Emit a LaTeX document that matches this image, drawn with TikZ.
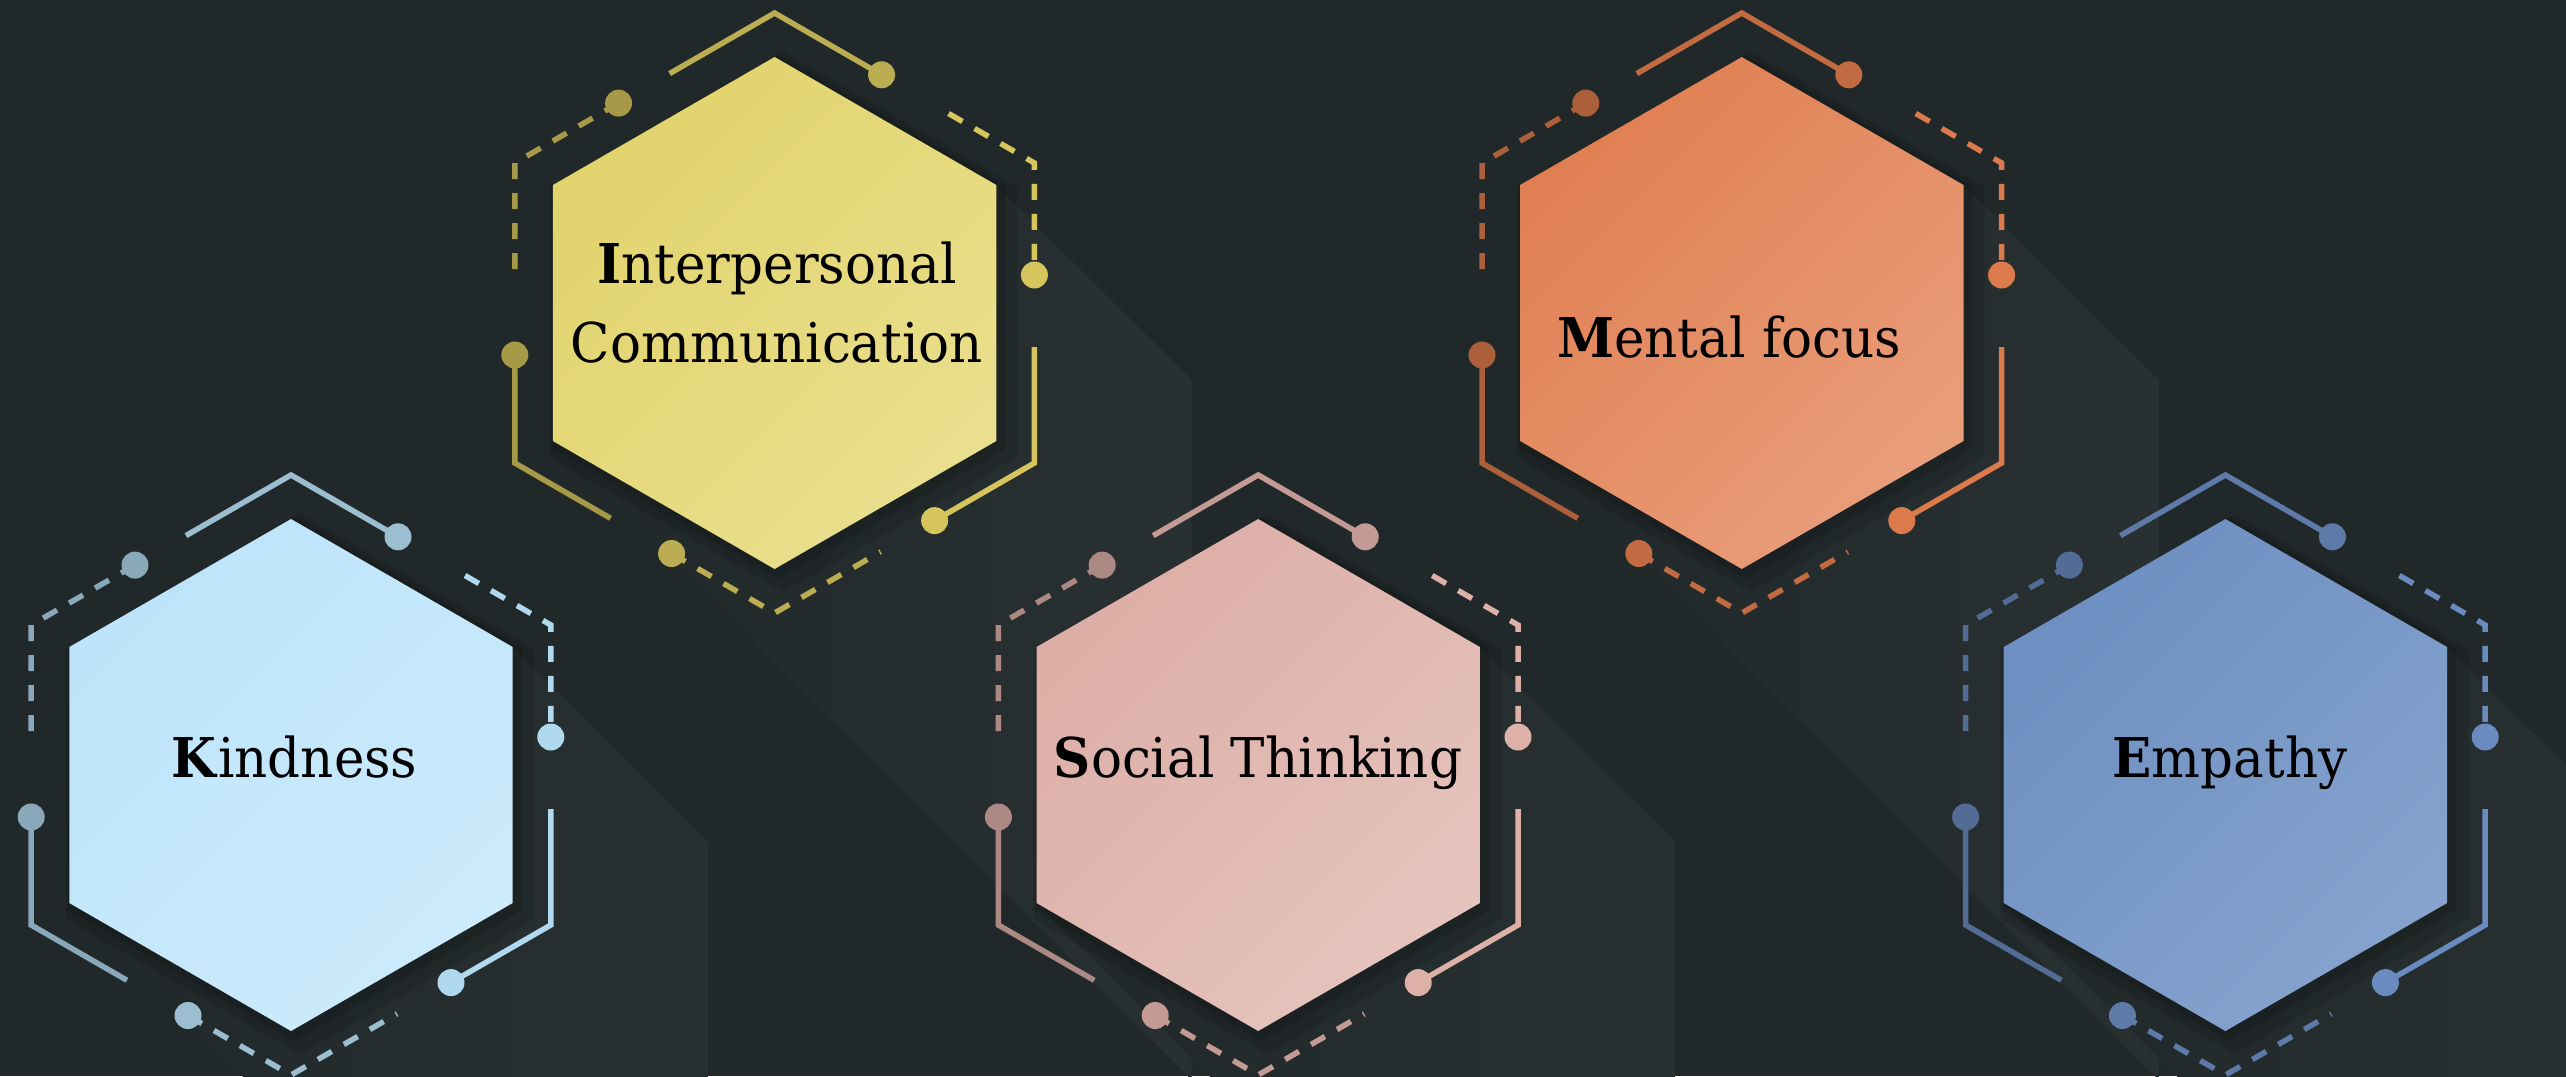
\documentclass[tikz,border=0pt]{standalone}
\usepackage{fontspec}
\setmainfont{DejaVu Serif}[FakeStretch=0.94]
\usetikzlibrary{shapes.geometric}

\definecolor{bgc}{RGB}{33,40,41}
\definecolor{glowc}{RGB}{40,48,50}
\definecolor{kindA}{RGB}{189,228,250}
\definecolor{kindB}{RGB}{204,235,252}
\definecolor{kindL}{RGB}{176,216,238}
\definecolor{interA}{RGB}{225,211,108}
\definecolor{interB}{RGB}{234,223,142}
\definecolor{interL}{RGB}{213,197,92}
\definecolor{socialA}{RGB}{220,174,166}
\definecolor{socialB}{RGB}{229,196,189}
\definecolor{socialL}{RGB}{221,176,168}
\definecolor{mentalA}{RGB}{224,127,82}
\definecolor{mentalB}{RGB}{233,158,123}
\definecolor{mentalL}{RGB}{220,122,76}
\definecolor{empathyA}{RGB}{109,143,193}
\definecolor{empathyB}{RGB}{133,163,206}
\definecolor{empathyL}{RGB}{106,139,192}

\begin{document}
\begin{tikzpicture}[
    hexa/.style={regular polygon,regular polygon sides=6,shape border rotate=30,minimum size=5.12cm,inner sep=0pt},
    hexfill/.style 2 args={top color=#1,bottom color=#2,shading angle=45},
    txt/.style={font=\fontsize{15.6}{22.2}\selectfont,align=center,anchor=base,text=black},
    ring color/.code={\colorlet{ringc}{#1}},
    solid line/.style={line width=0.055cm},
    dash line/.style={line width=0.055cm,dash pattern=on 0.16cm off 0.14cm},
    longshadow/.pic={
      \shade[left color=bgc,middle color=bgc,right color=glowc] (2.217,1.28) -- (4.17,-0.67) -- (4.17,-7.67) -- (-2.217,-1.28) -- cycle;
      \fill[black,opacity=0.13,shift={(0.04,-0.04)}] (90:2.62) -- (30:2.62) -- (-30:2.62) -- (-90:2.62) -- (-150:2.62) -- (150:2.62) -- cycle;
      \fill[black,opacity=0.10,shift={(0.09,-0.09)}] (90:2.70) -- (30:2.70) -- (-30:2.70) -- (-90:2.70) -- (-150:2.70) -- (150:2.70) -- cycle;
    },
    hexring/.pic={
      \draw[solid line,ringc!88!black] (-1.05,2.394) -- (0,3) -- (1.07,2.382);
      \fill[ringc!88!black] (1.07,2.382) circle (0.135);
      \draw[dash line,ringc!78!black] (-1.56,2.099) -- (-2.598,1.5) -- (-2.598,0.32);
      \fill[ringc!78!black] (-1.56,2.099) circle (0.135);
      \draw[dash line,ringc] (1.74,1.995) -- (2.598,1.5) -- (2.598,0.38);
      \fill[ringc] (2.598,0.38) circle (0.135);
      \draw[solid line,ringc!78!black] (-2.598,-0.42) -- (-2.598,-1.5) -- (-1.64,-2.053);
      \fill[ringc!78!black] (-2.598,-0.42) circle (0.135);
      \draw[solid line,ringc] (2.598,-0.34) -- (2.598,-1.5) -- (1.60,-2.076);
      \fill[ringc] (1.60,-2.076) circle (0.135);
      \draw[dash line,ringc!88!black] (-1.03,-2.405) -- (0,-3) -- (1.06,-2.388);
      \fill[ringc!88!black] (-1.03,-2.405) circle (0.135);
    }]

    \useasboundingbox (0,0) rectangle (25.66,-10.76);
    \fill[bgc] (0,0) rectangle (25.66,-10.76);
    \clip (0,0) rectangle (25.66,-10.76);

    \coordinate (c1) at (2.91,-7.75);
    \coordinate (c2) at (7.746,-3.13);
    \coordinate (c3) at (12.582,-7.75);
    \coordinate (c4) at (17.418,-3.13);
    \coordinate (c5) at (22.254,-7.75);

    \pic at (c1) {longshadow};
    \pic at (c2) {longshadow};
    \pic at (c3) {longshadow};
    \pic at (c4) {longshadow};
    \pic at (c5) {longshadow};

    \node[hexa][hexfill={kindA}{kindB}](1) at (c1){};
    \node[hexa][hexfill={interA}{interB}](2) at (c2){};
    \node[hexa][hexfill={socialA}{socialB}](3) at (c3){};
    \node[hexa][hexfill={mentalA}{mentalB}](4) at (c4){};
    \node[hexa][hexfill={empathyA}{empathyB}](5) at (c5){};

    \pic[ring color=kindL] at (c1) {hexring};
    \pic[ring color=interL] at (c2) {hexring};
    \pic[ring color=socialL] at (c3) {hexring};
    \pic[ring color=mentalL] at (c4) {hexring};
    \pic[ring color=empathyL] at (c5) {hexring};

    \node[txt](t1) at (2.946,-7.77){\textbf{K}indness};
    \node[txt](t2) at (7.77,-3.62){\textbf{I}nterpersonal\\Communication};
    \node[txt](t3) at (12.58,-7.77){\textbf{S}ocial Thinking};
    \node[txt](t4) at (17.29,-3.57){\textbf{M}ental focus};
    \node[txt](t5) at (22.30,-7.77){\textbf{E}mpathy};

\end{tikzpicture}
\end{document}
